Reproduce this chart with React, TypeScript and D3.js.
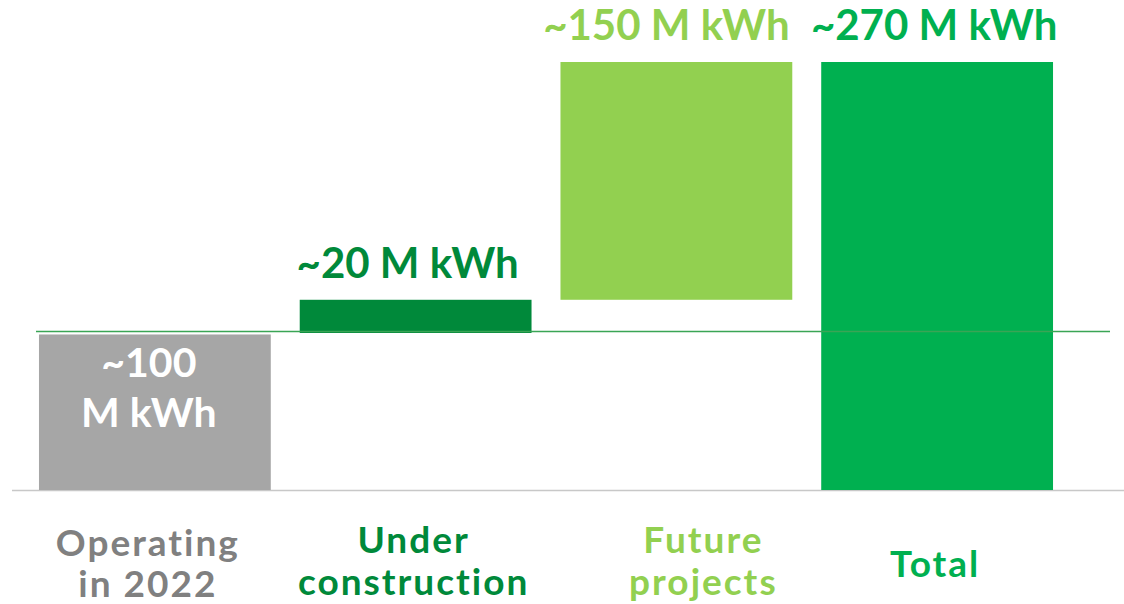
import React from "react";
import * as d3 from "d3";

const categories = ["Operating in 2022", "Under construction", "Future projects", "Total"];
const categoryLines = [["Operating", "in 2022"], ["Under", "construction"], ["Future", "projects"], ["Total"]];
const values = [100, 20, 150, 270];
const isTotal = [false, false, false, true];
const valueLabels = [["~100", "M kWh"], ["~20 M kWh"], ["~150 M kWh"], ["~270 M kWh"]];
const barColors = ["#a6a6a6", "#00893a", "#92d050", "#00b050"];
const textColors = ["#808080", "#00893a", "#92d050", "#00b050"];

const W = 1124;
const H = 604;
const FONT = "Lato, 'Open Sans', sans-serif";

export default function App() {
  const x = d3
    .scaleBand<string>()
    .domain(categories)
    .range([24.5, 1067.5])
    .paddingInner(0.111)
    .paddingOuter(0.0555);
  const y = d3.scaleLinear().domain([0, 270]).range([490, 62]);

  // layout nudges for label placement (pixels)
  const catDx = [-7, -2, 27, -2];
  const valDx = [-6, -8, -10, -3];

  let run = 0;
  const bars = values.map((v, i) => {
    let start: number, end: number;
    if (isTotal[i]) {
      start = 0;
      end = v;
    } else {
      start = run;
      end = run + v;
      run = end;
    }
    return { cat: categories[i], start, end, i };
  });

  return (
    <svg width={W} height={H} style={{ position: "absolute", left: 0, top: 0, background: "#fff" }}>
      <line x1={12} x2={1124} y1={y(0) + 0.5} y2={y(0) + 0.5} stroke="#c8c8c8" strokeWidth={1.5} />
      {bars.map((b) => {
        const bx = x(b.cat)!;
        const bw = x.bandwidth();
        const top = y(b.end) + (b.i === 0 ? 3 : 0);
        const bottom = y(b.start) + (b.i === 1 ? 1.5 : 0);
        return (
          <g key={b.cat}>
            <rect x={bx} y={top} width={bw} height={bottom - top} fill={barColors[b.i]} />
          </g>
        );
      })}
      <line x1={36} x2={1110} y1={y(100)} y2={y(100)} stroke="#3aa555" strokeWidth={1.5} />
      {bars.map((b) => {
        const cx = x(b.cat)! + x.bandwidth() / 2 + valDx[b.i];
        const top = y(b.end);
        const lbl = valueLabels[b.i];
        if (b.i === 0) {
          return (
            <text key={"v" + b.i} textAnchor="middle" fill="#ffffff" fontFamily={FONT} fontWeight={700} fontSize={41}>
              <tspan x={cx} y={top + 46}>{lbl[0]}</tspan>
              <tspan x={cx} y={top + 96}>{lbl[1]}</tspan>
            </text>
          );
        }
        return (
          <text key={"v" + b.i} x={cx} y={top - 22} textAnchor="middle" fill={textColors[b.i]} fontFamily={FONT} fontWeight={700} fontSize={42}>
            {lbl[0]}
          </text>
        );
      })}
      {categories.map((c, i) => {
        const cx = x(c)! + x.bandwidth() / 2 + catDx[i];
        const lines = categoryLines[i];
        return (
          <text key={"c" + i} textAnchor="middle" fill={textColors[i]} fontFamily={FONT} fontWeight={700} fontSize={37} letterSpacing={2}>
            {lines.length === 1 ? (
              <tspan x={cx} y={577}>{lines[0]}</tspan>
            ) : (
              lines.map((l, j) => (
                <tspan key={j} x={cx} y={(i === 0 ? 556 : 553) + j * (i === 0 ? 41 : 42)}>{l}</tspan>
              ))
            )}
          </text>
        );
      })}
    </svg>
  );
}
